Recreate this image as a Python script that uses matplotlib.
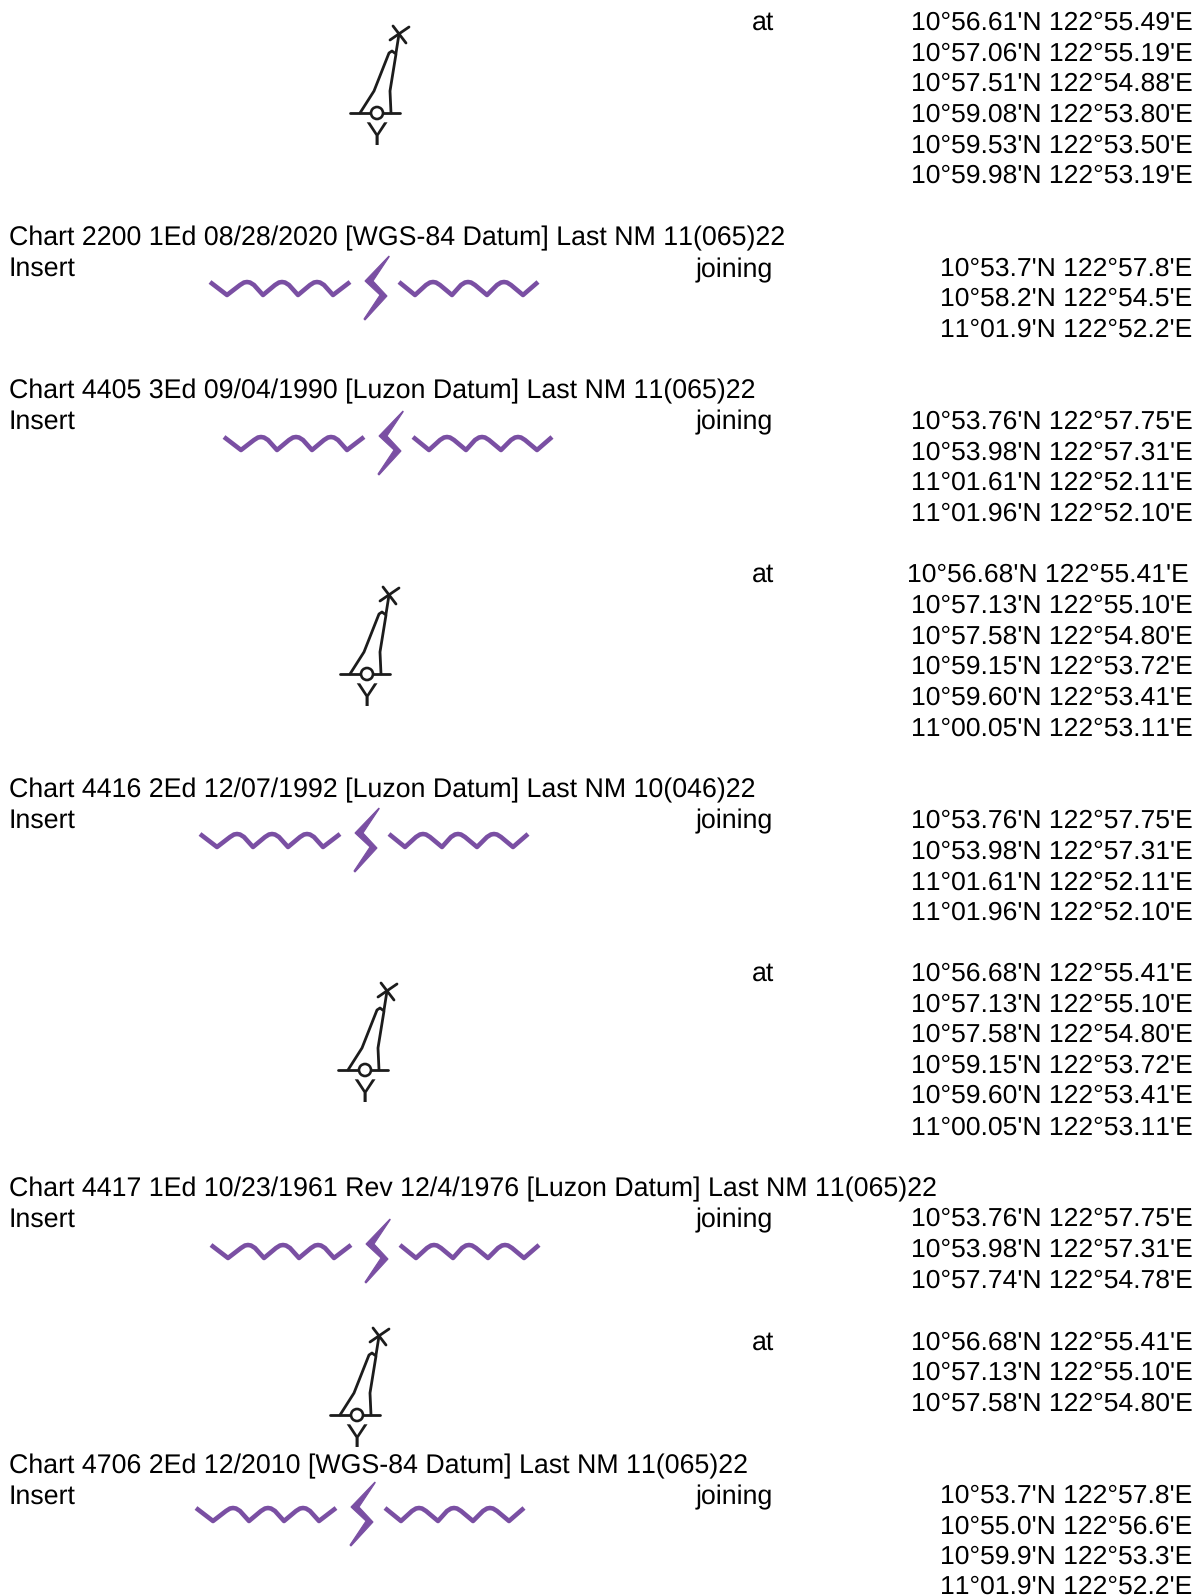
import matplotlib
matplotlib.use('Agg')
from matplotlib import pyplot as plt
from matplotlib.patches import Circle, Polygon

plt.rcParams['font.family'] = ['Liberation Sans', 'DejaVu Sans']
# the reference text has no pair kerning
plt.rcParams['text.kerning_factor'] = 20
plt.rcParams['text.hinting'] = 'no_hinting'

# page text, top to bottom
coords = [
    "10°56.61'N 122°55.49'E", "10°57.06'N 122°55.19'E", "10°57.51'N 122°54.88'E",
    "10°59.08'N 122°53.80'E", "10°59.53'N 122°53.50'E", "10°59.98'N 122°53.19'E",
    "10°53.7'N 122°57.8'E", "10°58.2'N 122°54.5'E", "11°01.9'N 122°52.2'E",
    "10°53.76'N 122°57.75'E", "10°53.98'N 122°57.31'E", "11°01.61'N 122°52.11'E", "11°01.96'N 122°52.10'E",
    "10°56.68'N 122°55.41'E", "10°57.13'N 122°55.10'E", "10°57.58'N 122°54.80'E",
    "10°59.15'N 122°53.72'E", "10°59.60'N 122°53.41'E", "11°00.05'N 122°53.11'E",
    "10°53.76'N 122°57.75'E", "10°53.98'N 122°57.31'E", "11°01.61'N 122°52.11'E", "11°01.96'N 122°52.10'E",
    "10°56.68'N 122°55.41'E", "10°57.13'N 122°55.10'E", "10°57.58'N 122°54.80'E",
    "10°59.15'N 122°53.72'E", "10°59.60'N 122°53.41'E", "11°00.05'N 122°53.11'E",
    "10°53.76'N 122°57.75'E", "10°53.98'N 122°57.31'E", "10°57.74'N 122°54.78'E",
    "10°56.68'N 122°55.41'E", "10°57.13'N 122°55.10'E", "10°57.58'N 122°54.80'E",
    "10°53.7'N 122°57.8'E", "10°55.0'N 122°56.6'E", "10°59.9'N 122°53.3'E", "11°01.9'N 122°52.2'E",
]
coord_rows = [
    30, 61, 91, 122, 153, 183,
    276, 306, 337,
    429, 460, 490, 521,
    582, 613, 644, 674, 705, 736,
    828, 859, 890, 920,
    981, 1012, 1042, 1073, 1103, 1135,
    1226, 1257, 1288,
    1350, 1380, 1411,
    1503, 1534, 1564, 1594,
]
coord_right = [1192.5] * len(coords)
coord_right[13] = 1188.5

headers = [
    "Chart 2200 1Ed 08/28/2020 [WGS-84 Datum] Last NM 11(065)22",
    "Chart 4405 3Ed 09/04/1990 [Luzon Datum] Last NM 11(065)22",
    "Chart 4416 2Ed 12/07/1992 [Luzon Datum] Last NM 10(046)22",
    "Chart 4417 1Ed 10/23/1961 Rev 12/4/1976 [Luzon Datum] Last NM 11(065)22",
    "Chart 4706 2Ed 12/2010 [WGS-84 Datum] Last NM 11(065)22",
]
header_rows = [245, 398, 797, 1196, 1473]
insert_rows = [276, 429, 828, 1227, 1504]
joining_rows = [277, 429, 828, 1227, 1504]
at_rows = [30, 582, 981, 1350]

# symbol outlines, pixels relative to the symbol centre
buoy_left = [(-17, 0), (-3, -22), (12, -60), (15, -62), (19, -59), (13, -22), (14, 0)]
buoy_mast = [(19, -60), (22, -79)]
buoy_cross_a = [(16, -87), (29, -70)]
buoy_cross_b = [(13, -73), (32, -86)]
buoy_base = [(-27, 0), (23, 0)]
buoy_centres = [(377, 113), (367, 674), (365, 1070), (357, 1415)]

wave_left = [(-167, -7), (-150, 6), (-137, -4), (-133, -6.5), (-130, -7), (-127, -6.5), (-123, -4), (-114, 6),
             (-102, -4), (-98, -6.5), (-95, -7), (-92, -6.5), (-88, -4), (-79, 6),
             (-67, -4), (-63, -6.5), (-60, -7), (-57, -6.5), (-53, -4), (-44, 6), (-27, -7)]
wave_right = [(22, -7), (38, 6), (49, -4), (53, -6.5), (56, -7), (59, -6.5), (63, -4), (75, 6),
              (84, -4), (88, -6.5), (91, -7), (94, -6.5), (98, -4), (110, 6),
              (120, -4), (124, -6.5), (127, -7), (130, -6.5), (134, -4), (146, 6), (161, -7)]
bolt = [(12, -33), (-12, -8), (3, 6), (-13, 30), (-12, 31), (10, 7), (-4, -8), (12, -32)]
wave_centres = [(377, 289), (391, 444), (367, 841), (378, 1252), (363, 1515)]

INK = '#1c1c1c'
PURPLE = '#7a4fa3'
COORD_SIZE = 19.07
LABEL_SIZE = 19.23

fig = plt.figure(figsize=(12.04, 15.96), dpi=100)
ax = fig.add_axes([0, 0, 1, 1])
ax.set_xlim(0, 1204)
ax.set_ylim(1596, 0)
ax.axis('off')


def shifted(points, cx, cy):
    return [p[0] + cx for p in points], [p[1] + cy for p in points]


def draw_buoy(cx, cy):
    for part in (buoy_left, buoy_mast, buoy_cross_a, buoy_cross_b, buoy_base):
        x, y = shifted(part, cx, cy)
        ax.plot(x, y, color=INK, lw=2.0, solid_capstyle='round', solid_joinstyle='round')
    ax.add_patch(Circle((cx, cy), 6, facecolor='white', edgecolor=INK, lw=1.9, zorder=3))
    ax.text(cx - 1, cy + 32, 'Y', fontsize=24, color=INK, ha='center', va='baseline')


def draw_wave(cx, cy):
    for part in (wave_left, wave_right):
        x, y = shifted(part, cx, cy)
        ax.plot(x, y, color=PURPLE, lw=3.3, solid_capstyle='butt', solid_joinstyle='round')
    x, y = shifted(bolt, cx, cy)
    ax.add_patch(Polygon(list(zip(x, y)), closed=True, facecolor=PURPLE, edgecolor=PURPLE, lw=0.8))


for c in buoy_centres:
    draw_buoy(*c)
for c in wave_centres:
    draw_wave(*c)

for label, y, right in zip(coords, coord_rows, coord_right):
    ax.text(right, y, label, fontsize=COORD_SIZE, color='black', ha='right', va='baseline')
for label, y in zip(headers, header_rows):
    ax.text(9, y, label, fontsize=LABEL_SIZE, color='black', ha='left', va='baseline')
for y in insert_rows:
    ax.text(9, y, 'Insert', fontsize=LABEL_SIZE, color='black', ha='left', va='baseline')
for y in joining_rows:
    ax.text(696, y, 'joining', fontsize=LABEL_SIZE, color='black', ha='left', va='baseline')
for y in at_rows:
    ax.text(751.5, y, 'at', fontsize=LABEL_SIZE, color='black', ha='left', va='baseline')

fig.savefig('out.png', dpi=100, facecolor='white')
